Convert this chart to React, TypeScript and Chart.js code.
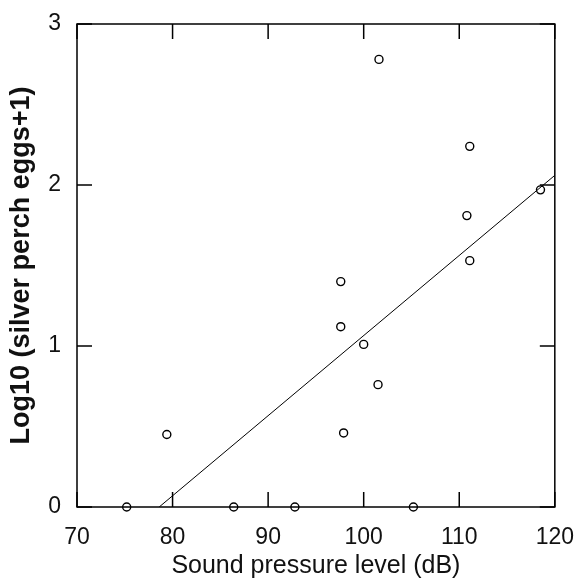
import React, { useEffect, useRef } from "react";
import { Chart, registerables } from "chart.js";

Chart.register(...registerables);

const soundLevel = [75.2, 79.4, 86.4, 92.8, 105.2, 101.6, 111.1, 118.5, 110.8, 111.1, 97.6, 97.6, 100.0, 101.5, 97.9];
const logEggs = [0, 0.45, 0, 0, 0, 2.78, 2.24, 1.97, 1.81, 1.53, 1.40, 1.12, 1.01, 0.76, 0.46];
const fitX = [78.6, 120];
const fitY = [0, 2.06];
const xTicks = [70, 80, 90, 100, 110, 120];
const yTicks = [0, 1, 2, 3];

const framePlugin = {
  id: "frame",
  afterDatasetsDraw(chart: any) {
    const { ctx, chartArea: a, scales } = chart;
    const xs = scales.x, ys = scales.y;
    const L = 15;
    ctx.save();
    ctx.strokeStyle = "#000";
    ctx.lineWidth = 1.5;
    ctx.strokeRect(a.left, a.top, a.right - a.left, a.bottom - a.top);
    ctx.beginPath();
    xTicks.forEach((v) => {
      const px = xs.getPixelForValue(v);
      ctx.moveTo(px, a.bottom);
      ctx.lineTo(px, a.bottom - L);
      ctx.moveTo(px, a.top);
      ctx.lineTo(px, a.top + L);
    });
    yTicks.forEach((v) => {
      const py = ys.getPixelForValue(v);
      ctx.moveTo(a.left, py);
      ctx.lineTo(a.left + L, py);
      ctx.moveTo(a.right, py);
      ctx.lineTo(a.right - L, py);
    });
    ctx.stroke();
    ctx.restore();
  },
};

export default function App() {
  const ref = useRef<HTMLCanvasElement>(null);
  useEffect(() => {
    if (!ref.current) return;
    const chart = new Chart(ref.current, {
      type: "scatter",
      data: {
        datasets: [
          {
            data: soundLevel.map((x, i) => ({ x, y: logEggs[i] })),
            pointRadius: 4,
            pointBorderWidth: 1.4,
            borderColor: "#000",
            backgroundColor: "rgba(0,0,0,0)",
            clip: false as any,
          },
          {
            type: "line" as any,
            data: fitX.map((x, i) => ({ x, y: fitY[i] })),
            borderColor: "#000",
            borderWidth: 1,
            pointRadius: 0,
            showLine: true,
            fill: false,
          },
        ],
      },
      options: {
        responsive: false,
        animation: false,
        layout: { padding: { top: 24, right: 25, left: 0, bottom: 0 } },
        plugins: { legend: { display: false }, tooltip: { enabled: false } },
        scales: {
          x: {
            type: "linear",
            min: 70,
            max: 120,
            afterBuildTicks: (s: any) => { s.ticks = xTicks.map((v) => ({ value: v })); },
            afterFit: (s: any) => { s.height = 74; },
            grid: { display: false },
            border: { display: false },
            ticks: { color: "#111", padding: 9, font: { family: "Liberation Sans", size: 23 } },
            title: {
              display: true,
              text: "Sound pressure level (dB)",
              color: "#111",
              padding: { top: 0, bottom: 0 },
              font: { family: "Liberation Sans", size: 25 },
            },
          },
          y: {
            type: "linear",
            min: 0,
            max: 3,
            afterBuildTicks: (s: any) => { s.ticks = yTicks.map((v) => ({ value: v })); },
            afterFit: (s: any) => { s.width = 77; },
            grid: { display: false },
            border: { display: false },
            ticks: { color: "#111", padding: 8, font: { family: "Liberation Sans", size: 23 } },
            title: {
              display: true,
              text: "Log10 (silver perch eggs+1)",
              color: "#111",
              padding: { top: 5, bottom: 0 },
              font: { family: "Liberation Sans", size: 27, weight: "bold" },
            },
          },
        },
      },
      plugins: [framePlugin],
    });
    return () => chart.destroy();
  }, []);
  return (
    <div style={{ position: "fixed", left: 0, top: 0, width: 583, height: 581, background: "#fff" }}>
      <canvas ref={ref} width={583} height={581} style={{ display: "block" }} />
    </div>
  );
}
